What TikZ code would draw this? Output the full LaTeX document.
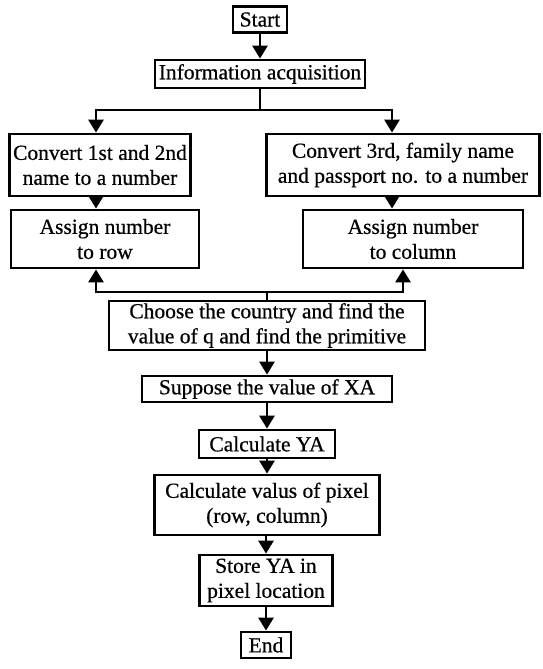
\documentclass[tikz,border=0pt]{standalone}
\usepackage{fontspec}
\setmainfont{Liberation Serif}[FakeBold=0.6]
\usetikzlibrary{arrows.meta,positioning}

\begin{document}
\begin{tikzpicture}[x=1pt, y=-1pt,
  font=\fontsize{21.5}{25}\selectfont,
  stepbox/.style={draw, line width=2.8pt, align=center, inner sep=1pt},
  link/.style={line width=2.8pt},
  flow/.style={line width=2.8pt, -{Triangle[width=15pt,length=13pt]}}
]
\useasboundingbox (0,0) rectangle (542,669);

\node[stepbox, minimum width=54, minimum height=26] (start) at (260,19.5) {Start};
\node[stepbox, minimum width=210, minimum height=28] (info) at (260,74) {Information acquisition};

\node[stepbox, minimum width=181, minimum height=62] (conv1) at (100,165) {Convert 1st and 2nd\\name to a number};
\node[stepbox, minimum width=273, minimum height=62] (conv2) at (403,165) {Convert 3rd, family name\\and passport no. to a number};

\node[stepbox, minimum width=188, minimum height=58] (row) at (105,239) {Assign number\\to row};
\node[stepbox, minimum width=220, minimum height=58] (col) at (413,239) {Assign number\\to column};

\node[stepbox, minimum width=316, minimum height=49] (choose) at (267,325.5) {Choose the country and find the\\value of q and find the primitive};
\node[stepbox, minimum width=250, minimum height=26] (suppose) at (267,389) {Suppose the value of XA};
\node[stepbox, minimum width=136, minimum height=28] (calcya) at (267,444) {Calculate YA};
\node[stepbox, minimum width=225, minimum height=60] (calcval) at (267,505) {Calculate valus of pixel\\(row, column)};
\node[stepbox, minimum width=133, minimum height=51] (store) at (266,580.5) {Store YA in\\pixel location};
\node[stepbox, minimum width=50, minimum height=26] (end) at (266,645) {End};

% split after information acquisition
\coordinate (splitL) at (96,110);
\coordinate (splitR) at (392,110);
\coordinate (mergeL) at (96,292);
\coordinate (mergeR) at (403,292);

\draw[flow] (start) -- (info);
\draw[link] (info.south) -- (info.south |- splitL);
\draw[flow] (info.south |- splitL) -- (splitL) -- (conv1.north -| splitL);
\draw[flow] (info.south |- splitR) -- (splitR) -- (conv2.north -| splitR);
\draw[flow] (conv1.south -| splitL) -- (row.north -| splitL);
\draw[flow] (conv2.south -| splitR) -- (col.north -| splitR);

% back up to row and column
\draw[link] (choose.north) -- (choose.north |- mergeL);
\draw[flow] (choose.north |- mergeL) -- (mergeL) -- (row.south -| mergeL);
\draw[flow] (choose.north |- mergeR) -- (mergeR) -- (col.south -| mergeR);

\draw[flow] (choose) -- (suppose);
\draw[flow] (suppose) -- (calcya);
\draw[flow] (calcya) -- (calcval);
\draw[flow] (calcval.south -| store) -- (store);
\draw[flow] (store) -- (end);
\end{tikzpicture}
\end{document}
